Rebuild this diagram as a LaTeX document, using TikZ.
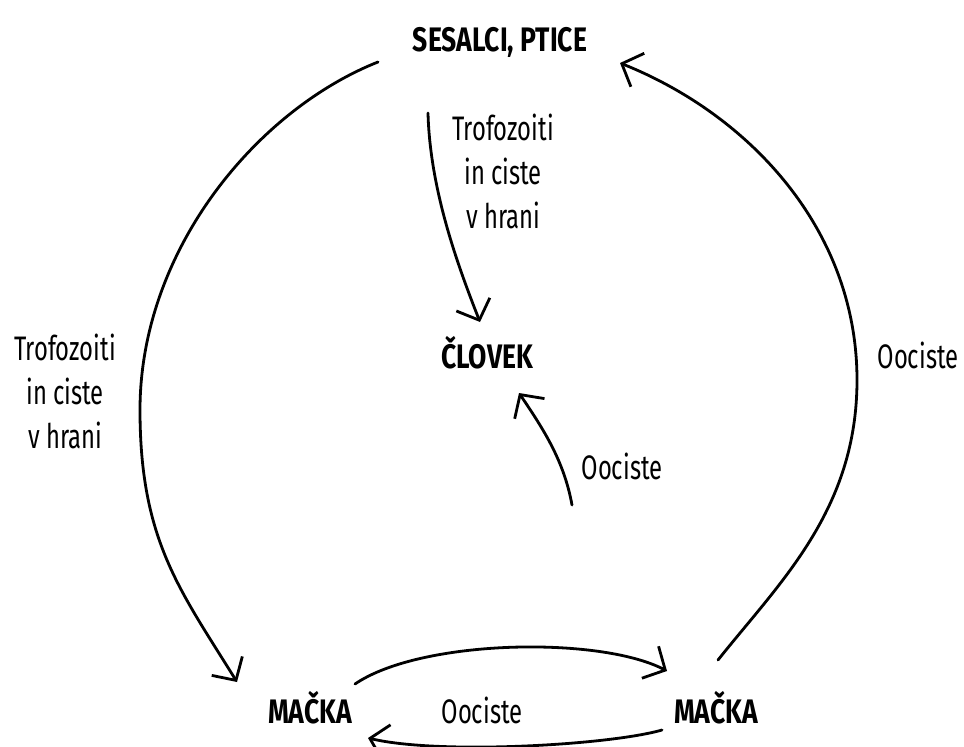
\documentclass[tikz,border=0pt]{standalone}
\usepackage{fontspec}
\setmainfont{Fira Sans}[FakeStretch=0.7]
\newfontfamily\labfont{Fira Sans}[FakeStretch=0.78]
\usetikzlibrary{arrows.meta}
\begin{document}
\begin{tikzpicture}[x=1pt,y=-1pt,
  txt/.style={font=\fontsize{34}{44}\selectfont, inner sep=0pt, anchor=base},
  lab/.style={font=\labfont\bfseries\fontsize{34}{44}\selectfont, inner sep=0pt, anchor=base},
  multi/.style={font=\fontsize{34}{44}\selectfont, inner sep=0pt, align=center, anchor=north},
  conn/.style={line width=2.8pt, line cap=round, -{Straight Barb[length=17pt,width=36pt]}}]
\fill[white] (0,0) rectangle (964,747);
\useasboundingbox (0,0) rectangle (964,747);

% nodes
\node[lab] (ses) at (500,51) {SESALCI, PTICE};
\node[lab] (clo) at (487,368) {ČLOVEK};
\node[lab] (m1) at (310,723) {MAČKA};
\node[lab] (m2) at (716,723) {MAČKA};
\node[txt] (o1) at (482,723) {Oociste};
\node[txt] (o2) at (622,479) {Oociste};
\node[txt] (o3) at (918,368) {Oociste};
\node[multi] (t1) at (503,114) {Trofozoiti\\in ciste\\v hrani};
\node[multi] (t2) at (65,334) {Trofozoiti\\in ciste\\v hrani};

% connector end points
\coordinate (sesL) at (378,62);
\coordinate (leftmost) at (140,410);
\coordinate (m1in) at (237,682);
\coordinate (m2out) at (718,660);
\coordinate (rightmost) at (857,380);
\coordinate (sesR) at (620,63);
\coordinate (t1s) at (428,113);
\coordinate (cloin) at (480,322);
\coordinate (m2up) at (572,505);
\coordinate (cloin2) at (519,393);
\coordinate (m1out) at (355,684);
\coordinate (m2in) at (667,671);
\coordinate (m2out2) at (662,730);
\coordinate (m1in2) at (368,738);

% SESALCI -> MACKA (left)
\draw[conn] (sesL) .. controls (257,110) and (140,250) .. (leftmost)
  .. controls (140,540) and (180,590) .. (m1in);
% MACKA (right) -> SESALCI
\draw[conn] (m2out) .. controls (780,582) and (857,510) .. (rightmost)
  .. controls (857,230) and (750,115) .. (sesR);
% SESALCI -> CLOVEK
\draw[conn] (t1s) .. controls (430,190) and (458,266) .. (cloin);
% MACKA -> CLOVEK
\draw[conn] (m2up) .. controls (564,461) and (544,430) .. (cloin2);
% MACKA -> MACKA
\draw[conn] (m1out) .. controls (421,639) and (600,636) .. (m2in);
\draw[conn] (m2out2) .. controls (610,745) and (440,755) .. (m1in2);
\end{tikzpicture}
\end{document}
